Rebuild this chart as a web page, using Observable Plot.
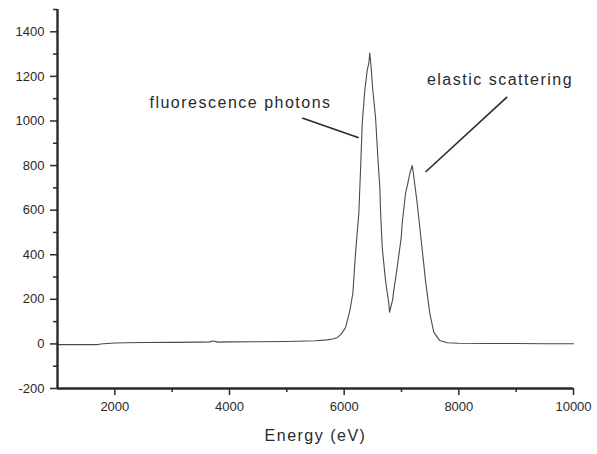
<!DOCTYPE html>
<html>
<head>
<meta charset="utf-8">
<script src="https://cdn.jsdelivr.net/npm/d3@7"></script>
<script src="https://cdn.jsdelivr.net/npm/@observablehq/plot@0.6"></script>
<style>
  html, body { margin: 0; padding: 0; background: #fff; }
  #chart svg { display: block; }
</style>
</head>
<body>
<div id="chart"></div>
<script>
// Spectrum (energy in eV, counts)
const energy = [1000, 1500, 1700, 1800, 2000, 2200, 2500, 3000, 3500, 3650, 3720, 3800, 4000, 4500, 5000, 5500, 5700, 5800, 5879, 5950, 6024, 6100, 6151, 6198, 6256, 6285, 6315, 6360, 6402, 6430, 6447, 6470, 6500, 6547, 6594, 6622, 6634, 6664, 6721, 6779, 6791, 6843, 6866, 6925, 6995, 7012, 7070, 7110, 7150, 7187, 7210, 7274, 7344, 7419, 7494, 7564, 7668, 7800, 8000, 8500, 9000, 9500, 10000];
const counts = [-3, -3, -3, 1, 4, 5, 6, 7, 8, 9, 13, 8, 9, 10, 11, 14, 18, 22, 28, 45, 73, 150, 226, 406, 586, 778, 989, 1138, 1228, 1260, 1305, 1240, 1138, 1017, 810, 702, 599, 433, 284, 181, 142, 195, 240, 343, 478, 540, 675, 720, 770, 800, 760, 630, 464, 284, 136, 52, 15, 5, 3, 2, 2, 1, 1];

// Axis ticks
const xMajorTicks = [2000, 4000, 6000, 8000, 10000];
const xMinorTicks = [3000, 5000, 7000, 9000];
const yMajorTicks = [-200, 0, 200, 400, 600, 800, 1000, 1200, 1400];
const yMinorTicks = [-100, 100, 300, 500, 700, 900, 1100, 1300, 1500];

// Annotations (data units)
const annoLabels = ["fluorescence photons", "elastic scattering"];
const annoTextX = [4192, 8718];
const annoTextY = [1080, 1183];
const leaderX1 = [5268, 8844];
const leaderY1 = [1013, 1108];
const leaderX2 = [6255, 7419];
const leaderY2 = [925, 771];

const xLabel = "Energy (eV)";

const spectrum = energy.map((e, i) => ({e, c: counts[i]}));
const annos = annoLabels.map((t, i) => ({
  t, x: annoTextX[i], y: annoTextY[i],
  x1: leaderX1[i], y1: leaderY1[i], x2: leaderX2[i], y2: leaderY2[i]
}));

const ink = "#2a2a2a";
const font = "'Liberation Sans', Arial, Helvetica, sans-serif";

const plot = Plot.plot({
  width: 597,
  height: 454,
  marginLeft: 57,
  marginRight: 24,
  marginTop: 9,
  marginBottom: 66,
  style: {fontFamily: font, fontSize: "13px", color: ink, background: "#fff"},
  x: {domain: [1000, 10000]},
  y: {domain: [-200, 1500]},
  marks: [
    Plot.line(spectrum, {x: "e", y: "c", stroke: "#4a4a4a", strokeWidth: 1.1}),
    Plot.link(annos, {x1: "x1", y1: "y1", x2: "x2", y2: "y2", stroke: ink, strokeWidth: 1.6}),
    Plot.text(annos, {x: "x", y: "y", text: "t", fontSize: 16, fill: ink}),
    Plot.axisX({ticks: xMajorTicks, tickSize: 7, tickPadding: 6, tickFormat: d => String(d), label: null, stroke: ink, fill: ink, strokeWidth: 1.5, fontSize: 13}),
    Plot.axisX({ticks: xMinorTicks, tickSize: 4, tickFormat: () => "", label: null, stroke: ink, strokeWidth: 1.5}),
    Plot.axisY({ticks: yMajorTicks, tickSize: 7, tickPadding: 6, tickFormat: d => String(d), label: null, stroke: ink, fill: ink, strokeWidth: 1.5, fontSize: 13}),
    Plot.axisY({ticks: yMinorTicks, tickSize: 4, tickFormat: () => "", label: null, stroke: ink, strokeWidth: 1.5}),
    Plot.ruleY([-200], {stroke: ink, strokeWidth: 2.4}),
    Plot.ruleX([1000], {stroke: ink, strokeWidth: 2.4}),
    Plot.text([xLabel], {frameAnchor: "bottom", dy: 52, text: d => d, fontSize: 16, fill: ink})
  ]
});

d3.select(plot).selectAll("g[aria-label='text'] text").style("letter-spacing", "1.5px");
document.getElementById("chart").appendChild(plot);
</script>
</body>
</html>
